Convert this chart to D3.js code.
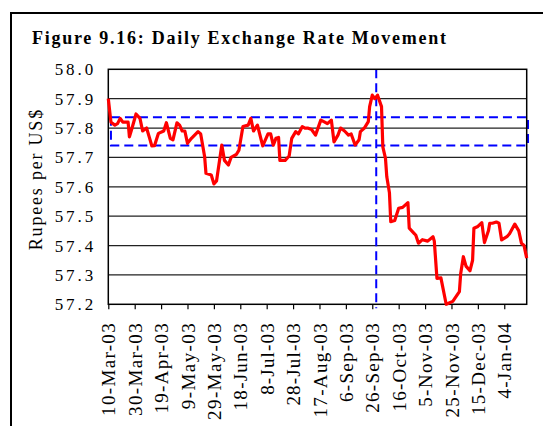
<!DOCTYPE html>
<html>
<head>
<meta charset="utf-8">
<script src="https://cdn.jsdelivr.net/npm/d3@7"></script>
<style>
  body { margin: 0; background: #fff; }
  svg { display: block; }
  svg text { font-family: "Liberation Serif", "DejaVu Serif", serif; }
</style>
</head>
<body>
<svg id="chart"></svg>
<script>
// daily Rs/US$ rate
const dates = [
  "2003-03-10","2003-03-12","2003-03-15","2003-03-17","2003-03-19","2003-03-21","2003-03-25","2003-03-26","2003-03-28","2003-03-31",
  "2003-04-03","2003-04-05","2003-04-08","2003-04-10","2003-04-12","2003-04-14","2003-04-17","2003-04-21","2003-04-23","2003-04-26",
  "2003-04-28","2003-05-01","2003-05-03","2003-05-05","2003-05-07","2003-05-09","2003-05-12","2003-05-17","2003-05-19","2003-05-22",
  "2003-05-23","2003-05-27","2003-05-29","2003-05-31","2003-06-04","2003-06-06","2003-06-09","2003-06-11","2003-06-15","2003-06-17",
  "2003-06-20","2003-06-24","2003-06-26","2003-06-28","2003-07-01","2003-07-05","2003-07-09","2003-07-11","2003-07-13","2003-07-15",
  "2003-07-17","2003-07-18","2003-07-22","2003-07-25","2003-07-27","2003-07-30","2003-08-01","2003-08-04","2003-08-06","2003-08-08",
  "2003-08-11","2003-08-14","2003-08-18","2003-08-21","2003-08-23","2003-08-26","2003-08-28","2003-08-31","2003-09-02","2003-09-05",
  "2003-09-08","2003-09-10","2003-09-13","2003-09-16","2003-09-17","2003-09-20","2003-09-23","2003-09-24","2003-09-26","2003-09-28",
  "2003-09-30","2003-10-03","2003-10-04","2003-10-06","2003-10-07","2003-10-09","2003-10-10","2003-10-13","2003-10-16","2003-10-19",
  "2003-10-23","2003-10-24","2003-10-28","2003-10-29","2003-10-31","2003-11-03","2003-11-07","2003-11-11","2003-11-12","2003-11-14",
  "2003-11-17","2003-11-21","2003-11-26","2003-12-01","2003-12-02","2003-12-04","2003-12-06","2003-12-09","2003-12-11","2003-12-12",
  "2003-12-15","2003-12-18","2003-12-20","2003-12-23","2003-12-24","2003-12-26","2003-12-29","2003-12-31","2004-01-02","2004-01-06",
  "2004-01-08","2004-01-12","2004-01-15","2004-01-17","2004-01-19","2004-01-21"
];
const rates = [
  57.90,57.82,57.81,57.815,57.833,57.82,57.82,57.77,57.80,57.848,
  57.833,57.79,57.80,57.77,57.739,57.74,57.782,57.79,57.818,57.765,
  57.76,57.818,57.81,57.79,57.79,57.748,57.765,57.788,57.78,57.702,
  57.646,57.64,57.61,57.62,57.742,57.69,57.674,57.70,57.71,57.725,
  57.805,57.81,57.833,57.79,57.81,57.739,57.78,57.78,57.742,57.765,
  57.768,57.69,57.69,57.705,57.765,57.788,57.78,57.805,57.80,57.80,
  57.795,57.776,57.827,57.82,57.815,57.827,57.753,57.776,57.80,57.79,
  57.776,57.78,57.742,57.76,57.788,57.80,57.822,57.873,57.912,57.90,
  57.912,57.873,57.736,57.697,57.634,57.58,57.481,57.485,57.527,57.53,
  57.546,57.459,57.44,57.435,57.408,57.42,57.415,57.43,57.415,57.288,
  57.29,57.20,57.21,57.243,57.305,57.362,57.33,57.314,57.35,57.459,
  57.465,57.478,57.41,57.45,57.476,57.476,57.48,57.476,57.419,57.43,
  57.44,57.473,57.45,57.408,57.40,57.357
];
const yTicks = [57.2, 57.3, 57.4, 57.5, 57.6, 57.7, 57.8, 57.9, 58.0];
const xTickLabels = ["10-Mar-03","30-Mar-03","19-Apr-03","9-May-03","29-May-03","18-Jun-03","8-Jul-03",
  "28-Jul-03","17-Aug-03","6-Sep-03","26-Sep-03","16-Oct-03","5-Nov-03","25-Nov-03","15-Dec-03","4-Jan-04"];
// dashed band and marker
const bandRange = [57.741, 57.837];
const bandDates = ["2003-03-12", "2004-01-22"];
const markerDate = "2003-09-29";

const W = 543, H = 426;
const margin = { top: 69.3, right: 16.3, bottom: 121.7, left: 108.3 };
const width = W - margin.left - margin.right;
const height = H - margin.top - margin.bottom;

const parseIso = d3.timeParse("%Y-%m-%d");
const parseTick = d3.timeParse("%d-%b-%y");
const serif = "Liberation Serif";

const svg = d3.select("#chart").attr("width", W).attr("height", H);

// stretch text to the wide spacing of the original
function spread(sel, k) {
  sel.each(function () {
    const L = this.getComputedTextLength();
    d3.select(this).attr("textLength", L * k).attr("lengthAdjust", "spacing");
  });
}

// outer frame (runs off the picture)
svg.append("rect")
  .attr("x", 11).attr("y", 13)
  .attr("width", 600).attr("height", 500)
  .attr("fill", "none").attr("stroke", "#000").attr("stroke-width", 2);

svg.append("text")
  .attr("x", 32).attr("y", 44)
  .attr("font-family", serif).attr("font-size", 18).attr("font-weight", "bold")
  .attr("textLength", 414).attr("lengthAdjust", "spacing")
  .text("Figure 9.16: Daily Exchange Rate Movement");

const g = svg.append("g").attr("transform", "translate(" + margin.left + "," + margin.top + ")");

const x = d3.scaleTime()
  .domain([parseIso("2003-03-10"), parseIso("2004-01-21")])
  .range([0, width]);

const y = d3.scaleLinear()
  .domain([57.2, 58.0])
  .range([height, 0]);

// gridlines
g.append("g")
  .selectAll("line")
  .data(yTicks.slice(1, -1))
  .enter().append("line")
  .attr("x1", 0).attr("x2", width)
  .attr("y1", d => y(d)).attr("y2", d => y(d))
  .attr("stroke", "#222").attr("stroke-width", 1.3);

// y axis labels
const yAxis = g.append("g")
  .call(d3.axisLeft(y).tickValues(yTicks).tickFormat(d3.format(".1f")).tickSize(0).tickPadding(15))
  .attr("font-family", serif).attr("font-size", 17);
yAxis.select(".domain").remove();
yAxis.selectAll("text")
  .attr("fill", "#000")
  .call(spread, 1.3);

// x axis
const xAxis = g.append("g")
  .attr("transform", "translate(0," + height + ")")
  .call(d3.axisBottom(x)
    .tickValues(xTickLabels.map(parseTick))
    .tickFormat((d, i) => xTickLabels[i])
    .tickSizeOuter(0).tickSize(5))
  .attr("font-family", serif).attr("font-size", 19);
xAxis.select(".domain").remove();
xAxis.selectAll("line").attr("stroke", "#000").attr("stroke-width", 1.2);
xAxis.selectAll("text")
  .attr("fill", "#000")
  .attr("text-anchor", "end")
  .attr("transform", "rotate(-90)")
  .attr("x", -19).attr("y", 0).attr("dy", "0.35em")
  .call(spread, 1.13);

// blue dashed band
g.append("rect")
  .attr("x", x(parseIso(bandDates[0])))
  .attr("y", y(bandRange[1]))
  .attr("width", x(parseIso(bandDates[1])) - x(parseIso(bandDates[0])))
  .attr("height", y(bandRange[0]) - y(bandRange[1]))
  .attr("fill", "none").attr("stroke", "#0000ff").attr("stroke-width", 2)
  .attr("stroke-dasharray", "9,5");

// vertical marker
g.append("line")
  .attr("x1", x(parseIso(markerDate))).attr("x2", x(parseIso(markerDate)))
  .attr("y1", y(58.0)).attr("y2", y(57.2) + 4)
  .attr("stroke", "#0000ff").attr("stroke-width", 2)
  .attr("stroke-dasharray", "9,5");

// plot border
g.append("rect")
  .attr("width", width).attr("height", height)
  .attr("fill", "none").attr("stroke", "#000").attr("stroke-width", 1.5);

// the rate line
const line = d3.line()
  .x((d, i) => x(parseIso(dates[i])))
  .y(d => y(d));

g.append("path")
  .datum(rates)
  .attr("d", line)
  .attr("fill", "none")
  .attr("stroke", "#ff0000")
  .attr("stroke-width", 3.2)
  .attr("stroke-linejoin", "round");

// y axis title
svg.append("text")
  .attr("transform", "translate(42,180) rotate(-90)")
  .attr("text-anchor", "middle")
  .attr("font-family", serif).attr("font-size", 18)
  .text("Rupees per US$")
  .call(spread, 1.2);
</script>
</body>
</html>
